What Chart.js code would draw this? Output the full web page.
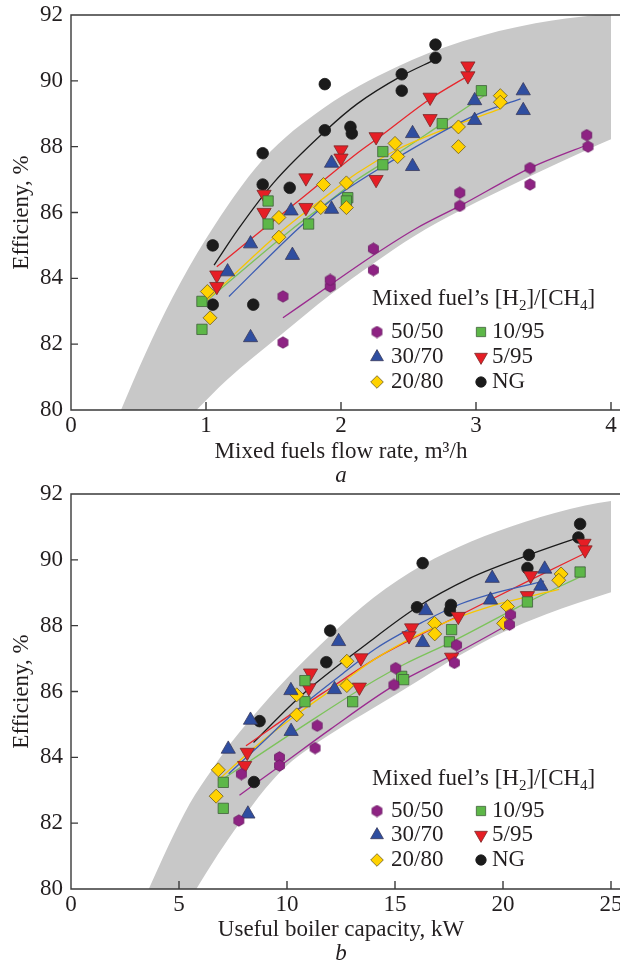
<!DOCTYPE html>
<html>
<head>
<meta charset="utf-8">
<title>Boiler efficiency on H2/CH4 mixed fuels</title>
<script src="https://cdn.jsdelivr.net/npm/chart.js"></script>
<style>
  body { margin: 0; background: #fff; }
  .panel { position: relative; width: 620px; height: 482px; }
</style>
</head>
<body>
<div class="panel"><canvas id="chartA"></canvas></div>
<div class="panel"><canvas id="chartB"></canvas></div>
<script>
// series names, same order everywhere below
var seriesNames = ['50/50', '30/70', '20/80', '10/95', '5/95', 'NG'];

// --- panel a: flow rate (m3/h) vs efficiency (%) ---
var a5050 = [[1.57,83.45],[1.57,82.05],[1.92,83.75],[1.92,83.95],[2.24,84.9],[2.24,84.25],[2.88,86.6],[2.88,86.2],[3.40,87.35],[3.40,86.85],[3.82,88.35],[3.83,88.0]];
var a3070 = [[1.16,84.2],[1.33,85.05],[1.33,82.2],[1.64,84.7],[1.63,86.05],[1.93,87.5],[1.93,86.1],[2.53,88.4],[2.53,87.4],[2.99,89.4],[2.99,88.8],[3.35,89.7],[3.35,89.1]];
var a2080 = [[1.01,83.6],[1.03,82.8],[1.54,85.85],[1.54,85.25],[1.87,86.85],[1.85,86.15],[2.04,86.9],[2.04,86.15],[2.40,88.1],[2.42,87.7],[2.87,88.6],[2.87,88.0],[3.18,89.55],[3.18,89.35]];
var a1095 = [[0.97,83.3],[0.97,82.45],[1.46,86.35],[1.46,85.65],[1.76,85.65],[2.05,86.45],[2.04,86.35],[2.31,87.85],[2.31,87.45],[2.75,88.7],[3.04,89.7]];
var a595 = [[1.08,84.1],[1.08,83.75],[1.43,86.55],[1.43,86.0],[1.74,87.05],[1.74,86.15],[2.0,87.9],[2.0,87.65],[2.26,88.3],[2.26,87.0],[2.66,89.5],[2.66,88.85],[2.94,90.45],[2.94,90.15]];
var aNG = [[1.05,85.0],[1.05,83.2],[1.35,83.2],[1.42,87.8],[1.42,86.85],[1.62,86.75],[1.88,89.9],[1.88,88.5],[2.07,88.6],[2.08,88.4],[2.45,90.2],[2.45,89.7],[2.70,91.1],[2.70,90.7]];

// fitted curves, panel a
var aFit5050 = [[1.57,82.8],[1.92,83.8],[2.24,84.7],[2.55,85.5],[2.88,86.2],[3.40,87.35],[3.82,88.05]];
var aFit3070 = [[1.17,83.45],[1.68,85.5],[1.92,86.35],[2.31,87.4],[2.99,88.95],[3.33,89.45]];
var aFit2080 = [[1.01,83.35],[1.55,85.4],[1.86,86.4],[2.12,87.2],[2.41,87.9],[2.75,88.5],[3.18,89.15]];
var aFit1095 = [[1.0,83.3],[1.63,85.47],[1.93,86.4],[2.12,87.0],[2.31,87.5],[2.75,88.7],[3.06,89.55]];
var aFit595 = [[1.08,84.35],[1.41,85.45],[1.7,86.4],[2.12,87.8],[2.27,88.25],[2.66,89.45],[2.94,90.15]];
var aFitNG = [[1.06,84.4],[1.24,85.5],[1.5,86.9],[1.89,88.5],[2.12,89.3],[2.45,90.15],[2.70,90.65]];

// grey band edges, panel a
var aBandHigh = [[0.37,80],[0.55,81.7],[0.75,83.4],[1.0,85.2],[1.42,87.6],[1.88,89.2],[2.4,90.4],[2.9,91.2],[3.44,91.75],[4.1,92.1]];
var aBandLow = [[0.93,80],[1.15,80.9],[1.56,82.3],[1.92,83.5],[2.24,84.45],[2.55,85.3],[2.88,86.05],[3.4,87.1],[3.82,87.9],[4.1,88.4]];

// --- panel b: useful capacity (kW) vs efficiency (%) ---
var b5050 = [[7.77,82.08],[7.89,83.49],[9.65,84.0],[9.65,83.75],[11.4,84.96],[11.3,84.28],[15.03,86.71],[14.95,86.2],[17.85,87.41],[17.75,86.87],[20.35,88.33],[20.3,88.03]];
var b3070 = [[7.28,84.25],[8.19,82.28],[8.31,85.13],[10.18,86.03],[10.19,84.79],[12.39,87.52],[12.2,86.06],[16.43,88.46],[16.28,87.49],[19.5,89.44],[19.42,88.78],[21.93,89.72],[21.75,89.2]];
var b2080 = [[6.82,83.62],[6.72,82.82],[10.45,85.9],[10.45,85.29],[12.77,86.92],[12.77,86.18],[16.83,88.07],[16.84,87.75],[20.21,88.58],[20.03,88.07],[22.69,89.57],[22.58,89.38]];
var b1095 = [[7.05,83.24],[7.05,82.45],[10.83,86.33],[10.83,85.69],[13.04,85.69],[15.31,86.46],[15.4,86.36],[17.62,87.88],[17.52,87.51],[21.13,88.72],[23.57,89.63]];
var b595 = [[8.16,84.15],[8.04,83.75],[11.09,86.56],[11.01,86.11],[13.42,87.02],[13.35,86.13],[15.77,87.93],[15.65,87.69],[17.93,88.28],[17.62,87.04],[21.28,89.52],[21.13,88.91],[23.75,90.5],[23.8,90.3]];
var bNG = [[8.73,85.1],[8.47,83.25],[12.0,87.85],[11.82,86.89],[16.28,89.9],[16.02,88.56],[17.59,88.63],[17.54,88.46],[21.2,90.15],[21.13,89.75],[23.57,91.09],[23.49,90.68]];

// fitted curves, panel b
var bFit5050 = [[7.8,82.85],[9.7,83.75],[12.0,84.85],[15.0,86.2],[17.8,87.15],[20.3,88.05]];
var bFit3070 = [[7.3,83.5],[8.5,84.23],[10.5,85.45],[12.5,86.5],[14.1,87.3],[16.4,88.15],[18.0,88.65],[19.4,88.95],[21.9,89.35]];
var bFit2080 = [[6.8,83.3],[8.5,84.3],[10.45,85.3],[12.5,86.25],[14.1,87.0],[16.8,87.95],[19.5,88.6],[22.6,89.1]];
var bFit1095 = [[7.05,83.35],[10.5,84.85],[14.1,86.35],[15.5,86.85],[17.6,87.5],[21.1,88.7],[23.6,89.5]];
var bFit595 = [[8.1,84.35],[10.5,85.45],[12.0,86.1],[14.1,87.0],[15.5,87.5],[17.95,88.3],[21.3,89.4],[23.8,90.2]];
var bFitNG = [[8.45,84.45],[10.7,85.9],[13.7,87.45],[16.0,88.55],[18.5,89.45],[21.2,90.15],[23.5,90.68]];

// grey band edges, panel b
var bBandHigh = [[3.6,80],[4.5,81.3],[5.5,82.6],[6.5,83.6],[7.3,84.35],[8.3,85.15],[10,86.4],[12,87.7],[14,88.85],[16.3,89.85],[18.5,90.55],[21,91.15],[23.8,91.65],[25.6,91.85]];
var bBandLow = [[5.8,80],[6.8,81.05],[7.8,82.0],[9,83.05],[10,83.75],[12,84.7],[14,85.5],[16,86.3],[18,87.1],[20,87.8],[22,88.35],[25.6,89.15]];

var FONT = '"Liberation Serif", "DejaVu Serif", serif';
var INK = '#231f20';
var BAND = '#c8c8c8';

// hexagon marker for 50/50 (not a built-in point style)
function hexagon(fill, edge, size) {
  var c = document.createElement('canvas');
  c.width = c.height = size;
  var g = c.getContext('2d');
  var r = size / 2 - 0.8;
  g.beginPath();
  for (var i = 0; i < 6; i++) {
    var a = Math.PI / 3 * i - Math.PI / 2;
    g.lineTo(size / 2 + r * Math.cos(a), size / 2 + r * Math.sin(a));
  }
  g.closePath();
  g.fillStyle = fill;
  g.fill();
  g.strokeStyle = edge;
  g.lineWidth = 0.8;
  g.stroke();
  return c;
}

var looks = [
  { style: hexagon('#8e2383', '#6a1a62', 13), radius: 6.5, fill: '#8e2383', edge: '#6a1a62', line: '#9b2a8f' },
  { style: 'triangle', radius: 8.2, fill: '#2f4ea0', edge: '#3a3a5a', line: '#3c5db4' },
  { style: 'rectRot', radius: 7, fill: '#ffd200', edge: '#6b5a20', line: '#f7c600' },
  { style: 'rect', radius: 7.3, fill: '#5db748', edge: '#3f5f3a', line: '#7cc35a' },
  { style: 'triangle', radius: 8.2, rotation: 180, fill: '#e61e25', edge: '#7a2a2a', line: '#e8262c' },
  { style: 'circle', radius: 5.8, fill: '#1b1b1b', edge: '#1b1b1b', line: '#1b1b1b' }
];

function toXY(arr) {
  return arr.map(function (p) { return { x: p[0], y: p[1] }; });
}

// frame with inward ticks, drawn on top of the band
var framePlugin = {
  id: 'frame',
  afterDraw: function (chart) {
    var a = chart.chartArea, ctx = chart.ctx;
    var sx = chart.scales.x, sy = chart.scales.y;
    ctx.save();
    ctx.strokeStyle = '#3a3a3a';
    ctx.lineWidth = 1.4;
    ctx.beginPath();
    ctx.moveTo(chart.width, a.top);
    ctx.lineTo(a.left, a.top);
    ctx.lineTo(a.left, a.bottom);
    ctx.lineTo(chart.width, a.bottom);
    sy.ticks.forEach(function (t) {
      var py = sy.getPixelForValue(t.value);
      ctx.moveTo(a.left, py);
      ctx.lineTo(a.left + 7, py);
    });
    sx.ticks.forEach(function (t) {
      var px = sx.getPixelForValue(t.value);
      ctx.moveTo(px, a.bottom);
      ctx.lineTo(px, a.bottom - 8);
    });
    ctx.stroke();
    ctx.restore();
  }
};

// legend block inside the plot + panel letter
var legendPlugin = {
  id: 'fuelLegend',
  afterDraw: function (chart, args, o) {
    var ctx = chart.ctx;
    ctx.save();
    ctx.fillStyle = INK;
    ctx.textBaseline = 'alphabetic';
    var x = o.left;
    var parts = [['Mixed fuel’s [H', 0], ['2', 1], [']/[CH', 0], ['4', 1], [']', 0]];
    parts.forEach(function (p) {
      ctx.font = (p[1] ? '15px ' : '23px ') + FONT;
      ctx.fillText(p[0], x, o.titleY + (p[1] ? 5 : 0));
      x += ctx.measureText(p[0]).width;
    });

    seriesNames.forEach(function (name, i) {
      var lk = looks[i];
      var col = i < 3 ? 0 : 1;
      var mx = o.left + 5 + col * 104;
      var my = o.rows[i % 3];
      ctx.fillStyle = lk.fill;
      ctx.strokeStyle = lk.edge;
      ctx.lineWidth = 0.8;
      Chart.helpers.drawPoint(ctx, { pointStyle: lk.style, rotation: lk.rotation || 0, radius: lk.radius * 0.9, borderWidth: 0.8 }, mx, my);
      ctx.fillStyle = INK;
      ctx.font = '23px ' + FONT;
      ctx.textBaseline = 'middle';
      ctx.fillText(name, mx + (col ? 11 : 14), my);
    });

    ctx.font = 'italic 23px ' + FONT;
    ctx.textAlign = 'center';
    ctx.textBaseline = 'middle';
    var a = chart.chartArea;
    ctx.fillText(o.letter, (a.left + a.right) / 2, o.letterY);
    ctx.restore();
  }
};

function buildChart(id, cfg) {
  var sets = [
    { data: toXY(cfg.bandHigh), showLine: true, pointRadius: 0, borderWidth: 0, borderColor: 'rgba(0,0,0,0)',
      backgroundColor: BAND, fill: 'start', cubicInterpolationMode: 'monotone', order: 6 },
    { data: toXY(cfg.bandLow), showLine: true, pointRadius: 0, borderWidth: 0, borderColor: 'rgba(0,0,0,0)',
      backgroundColor: '#ffffff', fill: 'start', cubicInterpolationMode: 'monotone', order: 5 }
  ];
  cfg.fits.forEach(function (fit, i) {
    sets.push({ data: toXY(fit), showLine: true, pointRadius: 0, borderColor: looks[i].line,
      borderWidth: 1.3, fill: false, cubicInterpolationMode: 'monotone', order: 4 });
  });
  cfg.points.forEach(function (pts, i) {
    var lk = looks[i];
    sets.push({ label: seriesNames[i], data: toXY(pts), showLine: false, pointStyle: lk.style,
      pointRadius: lk.radius, pointRotation: lk.rotation || 0, pointBackgroundColor: lk.fill,
      pointBorderColor: lk.edge, pointBorderWidth: 0.8, order: 1 });
  });

  var tickFont = { family: FONT, size: 23 };
  return new Chart(document.getElementById(id), {
    type: 'scatter',
    data: { datasets: sets },
    plugins: [framePlugin, legendPlugin],
    options: {
      responsive: true,
      maintainAspectRatio: false,
      animation: false,
      events: [],
      layout: { padding: { top: cfg.top, right: 2, left: 0, bottom: 0 } },
      plugins: {
        legend: { display: false },
        tooltip: { enabled: false },
        fuelLegend: { left: 372, titleY: cfg.legendTitleY, rows: cfg.legendRows, letter: cfg.letter, letterY: cfg.letterY }
      },
      scales: {
        x: {
          type: 'linear', min: 0, max: cfg.xMax,
          ticks: { stepSize: cfg.xStep, padding: 2, color: INK, font: tickFont },
          grid: { display: false, drawTicks: false },
          border: { display: false },
          title: { display: true, text: cfg.xTitle, color: INK, font: tickFont, padding: { top: 0, bottom: cfg.xTitlePad } },
          afterFit: function (s) { s.height = cfg.xHeight; s.paddingLeft = 0; s.paddingRight = 0; }
        },
        y: {
          min: 80, max: 92,
          ticks: { stepSize: 2, padding: 8, color: INK, font: tickFont },
          grid: { display: false, drawTicks: false },
          border: { display: false },
          title: { display: true, text: 'Efficieny, %', color: INK, font: tickFont, padding: { top: 8, bottom: 0 } },
          afterFit: function (s) { s.width = 71; s.paddingTop = 0; s.paddingBottom = 0; }
        }
      }
    }
  });
}

buildChart('chartA', {
  points: [a5050, a3070, a2080, a1095, a595, aNG],
  fits: [aFit5050, aFit3070, aFit2080, aFit1095, aFit595, aFitNG],
  bandHigh: aBandHigh, bandLow: aBandLow,
  xMax: 4, xStep: 1, xTitle: 'Mixed fuels flow rate, m³/h',
  top: 15, xHeight: 72, xTitlePad: 16,
  legendTitleY: 305, legendRows: [332, 357, 382],
  letter: 'a', letterY: 476
});

buildChart('chartB', {
  points: [b5050, b3070, b2080, b1095, b595, bNG],
  fits: [bFit5050, bFit3070, bFit2080, bFit1095, bFit595, bFitNG],
  bandHigh: bBandHigh, bandLow: bBandLow,
  xMax: 25, xStep: 5, xTitle: 'Useful boiler capacity, kW',
  top: 12, xHeight: 75, xTitlePad: 20,
  legendTitleY: 303, legendRows: [329, 353, 378],
  letter: 'b', letterY: 472
});
</script>
</body>
</html>
